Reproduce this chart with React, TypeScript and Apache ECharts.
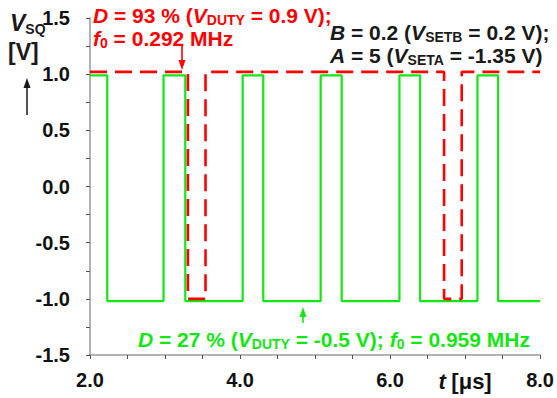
import React, { useEffect, useRef } from "react";
import * as echarts from "echarts";

// Square-wave output V_SQ over time (µs), step points where the level changes
const greenTimes = [2.0, 2.23, 2.98, 3.27, 4.035, 4.31, 5.075, 5.355, 6.125, 6.4, 7.165, 7.44, 8.0];
const greenLevels = [0.99, -1.02, 0.99, -1.02, 0.99, -1.02, 0.99, -1.02, 0.99, -1.02, 0.99, -1.02, -1.02];
const redTimes = [2.0, 3.305, 3.54, 6.72, 6.955, 8.0];
const redLevels = [1.02, -1.0, 1.02, -1.0, 1.02, 1.02];

// Tick labels
const xTickLabels: Record<string, string> = {
  "2": "2.0",
  "4": "4.0",
  "6": "6.0",
  "7": "{i|t} {u|[μs]}",
  "8": "8.0",
};
const yTickLabels = ["-1.5", "-1.0", "-0.5", "0.0", "0.5", "1.0", "1.5"];

const FONT = '"Liberation Sans", Arial, sans-serif';
const RED = "#ff0000";
const GREEN = "#14e614";
const DARK = "#1a1a1a";
const AXIS = "#9a9a9a";

// rich styles: italic symbols and lowered subscripts
function richFor(color: string, size: number, sub: number) {
  return {
    i: { fontFamily: FONT, fontWeight: "bold", fontStyle: "italic", fontSize: size, fill: color, lineHeight: 24 },
    s: { fontFamily: FONT, fontWeight: "bold", fontSize: sub, fill: color, lineHeight: 17, verticalAlign: "bottom" },
  };
}

function label(x: number, y: number, text: string, color: string, size = 21, sub = 14) {
  return {
    type: "text",
    x,
    y,
    z: 10,
    silent: true,
    style: {
      text,
      fill: color,
      fontFamily: FONT,
      fontWeight: "bold",
      fontSize: size,
      lineHeight: 24,
      verticalAlign: "middle",
      align: "left",
      rich: richFor(color, size, sub),
    },
  };
}

function arrow(x: number, y0: number, y1: number, color: string, width = 1.6) {
  // vertical arrow from y0 to its tip at y1
  const dir = y1 > y0 ? 1 : -1;
  const headLen = 10;
  return [
    {
      type: "line",
      z: 10,
      silent: true,
      shape: { x1: x, y1: y0, x2: x, y2: y1 - dir * headLen + dir },
      style: { stroke: color, lineWidth: width },
    },
    {
      type: "polygon",
      z: 10,
      silent: true,
      shape: {
        points: [
          [x - 3.5, y1 - dir * headLen],
          [x + 3.5, y1 - dir * headLen],
          [x, y1],
        ],
      },
      style: { fill: color },
    },
  ];
}

export default function App() {
  const ref = useRef<HTMLDivElement>(null);

  useEffect(() => {
    if (!ref.current) return;
    const chart = echarts.init(ref.current, undefined, { renderer: "svg" });

    const green = greenTimes.map((t, k) => [t, greenLevels[k]]);
    const red = redTimes.map((t, k) => [t, redLevels[k]]);

    chart.setOption({
      animation: false,
      backgroundColor: "#ffffff",
      grid: { left: 90, right: 15, top: 18, bottom: 43, containLabel: false },
      xAxis: {
        type: "value",
        min: 2,
        max: 8,
        interval: 0.5,
        axisLine: { show: true, onZero: false, lineStyle: { color: AXIS, width: 1.5 } },
        axisTick: { show: true, inside: false, length: 4, lineStyle: { color: "#555", width: 1 } },
        splitLine: { show: false },
        axisLabel: {
          margin: 15,
          color: "#111",
          fontFamily: FONT,
          fontWeight: "bold",
          fontSize: 20,
          formatter: (v: number) => xTickLabels[String(Math.round(v * 100) / 100)] ?? "",
          rich: {
            i: { fontFamily: FONT, fontWeight: "bold", fontStyle: "italic", fontSize: 22, color: "#111" },
            u: { fontFamily: FONT, fontWeight: "bold", fontSize: 22, color: "#111" },
          },
        },
      },
      yAxis: {
        type: "value",
        min: -1.5,
        max: 1.5,
        interval: 0.25,
        axisLine: { show: true, onZero: false, lineStyle: { color: AXIS, width: 1.5 } },
        axisTick: { show: true, inside: false, length: 4, lineStyle: { color: "#555", width: 1 } },
        splitLine: { show: false },
        axisLabel: {
          margin: 20,
          color: "#111",
          fontFamily: FONT,
          fontWeight: "bold",
          fontSize: 20,
          formatter: (v: number) => {
            const s = v.toFixed(1);
            return Math.abs(v * 2 - Math.round(v * 2)) < 1e-6 && yTickLabels.includes(s) ? s : "";
          },
        },
      },
      series: [
        {
          name: "D = 27 %",
          type: "line",
          step: "end",
          data: green,
          symbol: "none",
          lineStyle: { color: GREEN, width: 2.2 },
          z: 2,
        },
        {
          name: "D = 93 %",
          type: "line",
          step: "end",
          data: red,
          symbol: "none",
          lineStyle: { color: RED, width: 2.6, type: [17, 8] },
          z: 3,
        },
      ],
      graphic: [
        // axis title: V_SQ [V] with an upward arrow
        {
          type: "text",
          x: 10,
          y: 23,
          z: 10,
          silent: true,
          style: {
            text: "{iv|V}{sq|SQ}",
            verticalAlign: "middle",
            rich: {
              iv: { fontFamily: FONT, fontWeight: "bold", fontStyle: "italic", fontSize: 23, fill: DARK, lineHeight: 26 },
              sq: { fontFamily: FONT, fontWeight: "bold", fontSize: 14, fill: DARK, lineHeight: 16, verticalAlign: "bottom" },
            },
          },
        },
        {
          type: "text",
          x: 8,
          y: 52,
          z: 10,
          silent: true,
          style: { text: "[V]", fill: DARK, fontFamily: FONT, fontWeight: "bold", fontSize: 23, verticalAlign: "middle" },
        },
        ...arrow(27, 115, 78, DARK, 1.5),
        // red annotation
        label(93, 15, "{i|D} = 93 % ({i|V}{s|DUTY} = 0.9 V);", RED),
        label(93, 38, "{i|f}{s|0} = 0.292 MHz", RED),
        ...arrow(182, 46, 70, RED, 1.6),
        // black annotation
        label(330, 32, "{i|B} = 0.2 ({i|V}{s|SETB} = 0.2 V);", DARK),
        label(330, 55, "{i|A} = 5 ({i|V}{s|SETA} = -1.35 V)", DARK),
        // green annotation
        label(138, 339, "{i|D} = 27 % ({i|V}{s|DUTY} = -0.5 V); {i|f}{s|0} = 0.959 MHz", GREEN),
        ...arrow(303, 323, 307, GREEN, 1.6),
      ],
    });

    return () => chart.dispose();
  }, []);

  return (
    <div
      ref={ref}
      style={{ position: "absolute", left: 0, top: 0, width: 557, height: 398, background: "#fff" }}
    />
  );
}
